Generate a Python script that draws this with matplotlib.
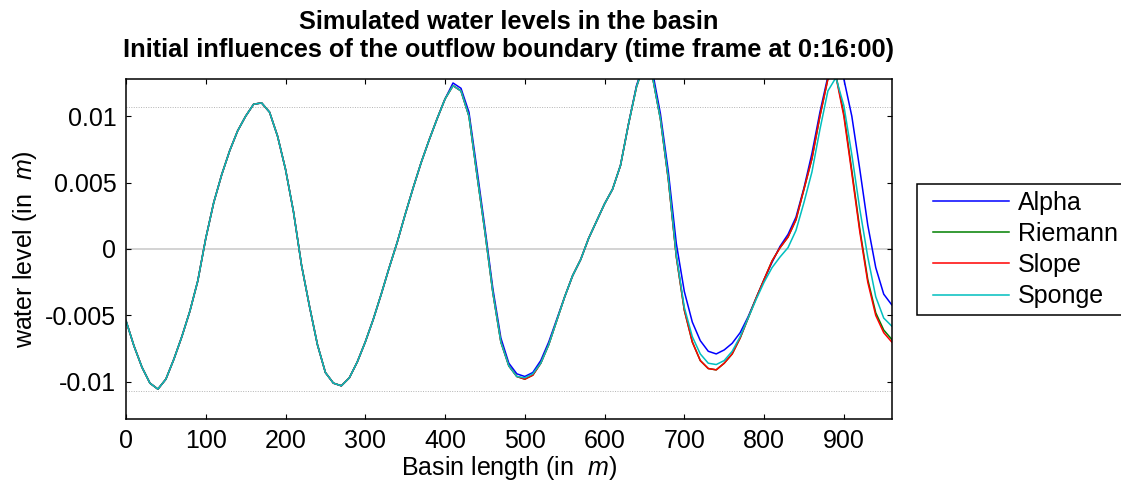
import numpy as np
import matplotlib
matplotlib.use("Agg")
import matplotlib.pyplot as plt
from matplotlib.lines import Line2D
from matplotlib.legend_handler import HandlerLine2D

# ---------------- data ----------------
basin_x = list(range(0, 961, 10))  # m

# identical for all four boundary types from 0 m to 400 m
shared_level = [
    -0.0054, -0.0073, -0.0089, -0.0101, -0.01055, -0.0098, -0.0083, -0.0066, -0.0047, -0.0024,
    0.0008, 0.0035, 0.0056, 0.0074, 0.0089, 0.0100, 0.0109, 0.0110, 0.0103, 0.0085,
    0.0060, 0.0028, -0.0012, -0.0043, -0.0072, -0.0093, -0.0101, -0.0103, -0.0097, -0.0085,
    -0.0070, -0.0053, -0.0034, -0.0014, 0.0005, 0.0026, 0.0046, 0.0065, 0.0082, 0.0098,
    0.0113,
]

# 410 m .. 960 m
alpha_tail = [
    0.0125, 0.0121, 0.0103, 0.0060, 0.0016, -0.0030, -0.0067, -0.0086, -0.0094, -0.0096,
    -0.0093, -0.0084, -0.0070, -0.0053, -0.0036, -0.0020, -0.0008, 0.0008, 0.0021, 0.0034,
    0.0045, 0.0063, 0.0094, 0.0123, 0.0141, 0.0134, 0.0102, 0.0058, 0.0004, -0.0032,
    -0.0055, -0.0069, -0.0077, -0.0079, -0.0076, -0.0071, -0.0063, -0.0051, -0.0037, -0.0023,
    -0.0010, 0.0002, 0.0011, 0.0024, 0.0046, 0.0072, 0.0103, 0.0130, 0.0140, 0.0128,
    0.0100, 0.0060, 0.0018, -0.0014, -0.0034, -0.0042,
]
riemann_tail = [
    0.0123, 0.0119, 0.0100, 0.0056, 0.0013, -0.0033, -0.0070, -0.0088, -0.0096, -0.0098,
    -0.0095, -0.0086, -0.0072, -0.0054, -0.0036, -0.0020, -0.0008, 0.0008, 0.0021, 0.0034,
    0.0045, 0.0063, 0.0094, 0.0122, 0.0140, 0.0130, 0.0098, 0.0052, -0.0006, -0.0046,
    -0.0070, -0.0084, -0.0090, -0.0091, -0.0086, -0.0079, -0.0067, -0.0052, -0.0037, -0.0023,
    -0.0009, 0.0001, 0.0009, 0.0022, 0.0045, 0.0068, 0.0100, 0.0128, 0.0131, 0.0102,
    0.0059, 0.0015, -0.0023, -0.0048, -0.0061, -0.0068,
]
slope_tail = [
    0.0123, 0.0119, 0.0100, 0.0056, 0.0013, -0.0033, -0.0070, -0.0088, -0.0096, -0.0098,
    -0.0095, -0.0086, -0.0072, -0.0054, -0.0036, -0.0020, -0.0008, 0.0008, 0.0021, 0.0034,
    0.0045, 0.0063, 0.0094, 0.0122, 0.0140, 0.0130, 0.0098, 0.0052, -0.0006, -0.0046,
    -0.0070, -0.0084, -0.0090, -0.0091, -0.0086, -0.0079, -0.0067, -0.0052, -0.0037, -0.0023,
    -0.0009, 0.0001, 0.0009, 0.0022, 0.0045, 0.0068, 0.0100, 0.0128, 0.0130, 0.0100,
    0.0057, 0.0013, -0.0025, -0.0050, -0.0063, -0.0070,
]
sponge_tail = [
    0.0123, 0.0119, 0.0100, 0.0056, 0.0013, -0.0033, -0.0070, -0.0088, -0.0096, -0.0097,
    -0.0094, -0.0086, -0.0072, -0.0054, -0.0036, -0.0020, -0.0008, 0.0008, 0.0021, 0.0034,
    0.0045, 0.0063, 0.0094, 0.0122, 0.0140, 0.0130, 0.0098, 0.0053, -0.0005, -0.0044,
    -0.0066, -0.0079, -0.0086, -0.0087, -0.0084, -0.0077, -0.0066, -0.0052, -0.0038, -0.0025,
    -0.0014, -0.0006, 0.0001, 0.0014, 0.0035, 0.0058, 0.0090, 0.0119, 0.0129, 0.0108,
    0.0071, 0.0030, -0.0006, -0.0036, -0.0052, -0.0058,
]

series_names = ["Alpha", "Riemann", "Slope", "Sponge"]
series_tails = [alpha_tail, riemann_tail, slope_tail, sponge_tail]
series_colors = ["#0000FF", "#008000", "#FF0000", "#00BFBF"]

x_ticks = [0, 100, 200, 300, 400, 500, 600, 700, 800, 900]
y_ticks = [-0.01, -0.005, 0, 0.005, 0.01]
y_tick_labels = ["-0.01", "-0.005", "0", "0.005", "0.01"]
ref_band = [-0.0107, 0.0107]

# ---------------- style ----------------
plt.rcParams["font.family"] = ["Liberation Sans", "DejaVu Sans"]
plt.rcParams["mathtext.fontset"] = "custom"
plt.rcParams["mathtext.rm"] = "Liberation Sans"
plt.rcParams["mathtext.it"] = "Liberation Sans:italic"

FS = 18

fig = plt.figure(figsize=(11.21, 4.88), dpi=100)
W, H = 1121, 488
ax = fig.add_axes([126 / W, 1 - 419 / H, (891.7 - 126) / W, (419 - 79) / H])

# reference lines
ax.axhline(0, color="#C8C8C8", lw=1.1, zorder=1)
for yv in ref_band:
    ax.axhline(yv, color="#B4B4B4", lw=0.7, ls=(0, (1, 1.5)), zorder=1)

for name, tail, col in zip(series_names, series_tails, series_colors):
    ax.plot(basin_x, shared_level + tail, color=col, lw=1.1, label=name, zorder=2,
            solid_joinstyle="round")

ax.set_xlim(0, 960)
ax.set_ylim(-0.0128, 0.0128)
ax.set_xticks(x_ticks)
ax.set_xticklabels([str(v) for v in x_ticks])
ax.set_yticks(y_ticks)
ax.set_yticklabels(y_tick_labels)
ax.tick_params(direction="in", length=3.5, width=0.8, top=True, right=True,
               labelsize=FS, pad=7, colors="black")
for sp in ax.spines.values():
    sp.set_linewidth(1.1)
    sp.set_color("black")

ax.set_xlabel("Basin length (in  $\\mathit{m}$)", fontsize=FS)
ax.set_ylabel("water level (in  $\\mathit{m}$)", fontsize=FS)
ax.xaxis.set_label_coords(0.5, (419 - 468) / 340)
ax.xaxis.label.set_va("center")
ax.yaxis.set_label_coords((25 - 126) / 765.7, 0.5)
ax.yaxis.label.set_va("center")

ax.set_title("Simulated water levels in the basin\n"
             "Initial influences of the outflow boundary (time frame at 0:16:00)",
             fontsize=18.3, fontweight="bold", pad=16, linespacing=1.19)

leg = ax.legend(loc="center left", bbox_to_anchor=(917 / W, 1 - 249.5 / H),
                bbox_transform=fig.transFigure, fontsize=FS, frameon=True,
                fancybox=False, shadow=False, borderaxespad=0, borderpad=0.28,
                labelspacing=0.29, handlelength=3.41, handletextpad=0.35,
                handler_map={Line2D: HandlerLine2D(xpad=0.35)})
leg.get_frame().set_edgecolor("black")
leg.get_frame().set_linewidth(1.1)
leg.get_frame().set_alpha(1)

fig.savefig("out.png", dpi=100)
